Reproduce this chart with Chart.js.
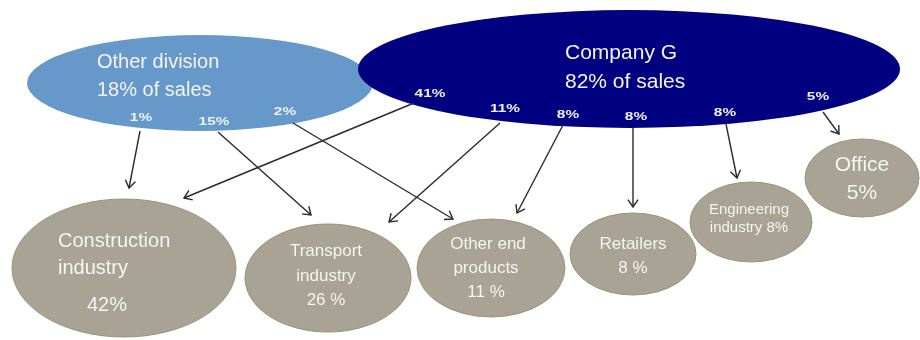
<!DOCTYPE html>
<html>
<head>
<meta charset="utf-8">
<script src="https://cdn.jsdelivr.net/npm/chart.js@4"></script>
<style>
  body { margin: 0; background: #fff; }
  #canvas-flow { display: block; }
</style>
</head>
<body>
<canvas id="canvas-flow" width="920" height="340"></canvas>
<script>
// sales split between the two producers
const sourceNames = ["Other division", "Company G"];
const sourceShares = [18, 82];

// end markets and their total share
const endUseLines = [["Construction", "industry"], ["Transport", "industry"], ["Other end", "products"], ["Retailers"], ["Engineering", "industry"], ["Office"]];
const endUseShares = [42, 26, 11, 8, 8, 5];

// flows: source index -> end use index, share of sales
const flowFrom = [0, 0, 0, 1, 1, 1, 1, 1, 1];
const flowTo = [0, 1, 2, 0, 1, 2, 3, 4, 5];
const flowShares = [1, 15, 2, 41, 11, 8, 8, 8, 5];

// diagram layout in axis units (x 0..920, y 0..340 downwards)
const sourceLayout = [
  {x: 200, y: 83, rx: 173, ry: 48, color: "#6699c9", font: 20, tx: 97, ty: [62, 90]},
  {x: 629, y: 69, rx: 271, ry: 59, color: "#000080", font: 21, tx: 565, ty: [53, 82]}
];
const endUseLayout = [
  {x: 124, y: 268, rx: 112, ry: 69, font: 20, align: "left", tx: [58, 58, 87], ty: [241, 268, 305], sep: ""},
  {x: 328, y: 278, rx: 83, ry: 54, font: 17, align: "center", tx: [326, 326, 326], ty: [251, 276, 300], sep: " "},
  {x: 491, y: 268, rx: 74, ry: 49, font: 17, align: "center", tx: [488, 486, 486], ty: [244, 268, 292], sep: " "},
  {x: 633, y: 254, rx: 63, ry: 41, font: 17, align: "center", tx: [633, 633], ty: [244, 268], sep: " "},
  {x: 751, y: 222, rx: 61, ry: 40, font: 15, align: "center", tx: [749, 749], ty: [210, 228], sep: "", inline: true},
  {x: 862, y: 178, rx: 57, ry: 39, font: 21, align: "center", tx: [862, 862], ty: [165, 193], sep: ""}
];
const flowPaths = [
  [[140, 131], [129, 188]],
  [[218, 132], [311, 215]],
  [[293, 123], [453, 219]],
  [[414, 103], [184, 198]],
  [[500, 123], [389, 222]],
  [[563, 125], [517, 213]],
  [[633, 128], [633, 207]],
  [[726, 124], [737, 178]],
  [[823, 112], [839, 134]]
];
const flowLabelPos = [[141, 118], [214, 122], [285, 112], [430, 94], [505, 109], [568, 115], [636, 117], [725, 113], [818, 97]];

const fontFamily = '"Liberation Sans", Arial, sans-serif';

function ellipse(ctx, chart, n, fill, stroke) {
  const xs = chart.scales.x, ys = chart.scales.y;
  const cx = xs.getPixelForValue(n.x), cy = ys.getPixelForValue(n.y);
  const rx = Math.abs(xs.getPixelForValue(n.x + n.rx) - cx);
  const ry = Math.abs(ys.getPixelForValue(n.y + n.ry) - cy);
  ctx.beginPath();
  ctx.ellipse(cx, cy, rx, ry, 0, 0, Math.PI * 2);
  ctx.fillStyle = fill;
  ctx.fill();
  if (stroke) {
    ctx.strokeStyle = stroke;
    ctx.lineWidth = 1;
    ctx.stroke();
  }
}

const nodePlugin = {
  id: "nodes",
  beforeDatasetsDraw(chart) {
    const ctx = chart.ctx, xs = chart.scales.x, ys = chart.scales.y;
    ctx.save();
    ctx.textBaseline = "middle";

    // end use ellipses
    endUseLayout.forEach((n, i) => {
      ellipse(ctx, chart, n, "#a8a394", "#9c9474");
      let lines = endUseLines[i].slice();
      const pct = endUseShares[i] + n.sep + "%";
      if (n.inline) lines[lines.length - 1] += " " + pct;
      else lines.push(pct);
      ctx.fillStyle = "#f4f4f0";
      ctx.font = n.font + "px " + fontFamily;
      ctx.textAlign = n.align;
      lines.forEach((t, k) => {
        ctx.fillText(t, xs.getPixelForValue(n.tx[k]), ys.getPixelForValue(n.ty[k]));
      });
    });

    // source ellipses, company G on top
    sourceLayout.forEach((n, i) => {
      ellipse(ctx, chart, n, n.color);
      ctx.fillStyle = "#f4f4f4";
      ctx.font = n.font + "px " + fontFamily;
      ctx.textAlign = "left";
      ctx.fillText(sourceNames[i], xs.getPixelForValue(n.tx), ys.getPixelForValue(n.ty[0]));
      ctx.fillText(sourceShares[i] + "% of sales", xs.getPixelForValue(n.tx), ys.getPixelForValue(n.ty[1]));
    });
    ctx.restore();
  },
  afterDatasetsDraw(chart) {
    const ctx = chart.ctx, xs = chart.scales.x, ys = chart.scales.y;
    ctx.save();
    chart.data.datasets.forEach((ds, i) => {
      const pts = chart.getDatasetMeta(i).data;
      const a = pts[0], b = pts[1];
      const ang = Math.atan2(b.y - a.y, b.x - a.x);
      const len = 9, spread = 0.6;
      ctx.beginPath();
      ctx.moveTo(b.x - len * Math.cos(ang - spread), b.y - len * Math.sin(ang - spread));
      ctx.lineTo(b.x, b.y);
      ctx.lineTo(b.x - len * Math.cos(ang + spread), b.y - len * Math.sin(ang + spread));
      ctx.strokeStyle = "#2a2a2a";
      ctx.lineWidth = 1.4;
      ctx.stroke();

      // share printed at the start of each flow, wide and small
      const p = flowLabelPos[i];
      ctx.save();
      ctx.translate(xs.getPixelForValue(p[0]), ys.getPixelForValue(p[1]));
      ctx.scale(1.4, 1);
      ctx.font = "bold 11px " + fontFamily;
      ctx.textAlign = "center";
      ctx.textBaseline = "middle";
      ctx.fillStyle = "#eef2f8";
      ctx.fillText(flowShares[i] + "%", 0, 0);
      ctx.restore();
    });
    ctx.restore();
  }
};

function start() {
  const ctx = document.getElementById("canvas-flow").getContext("2d");
  const datasets = flowShares.map((share, i) => ({
    label: sourceNames[flowFrom[i]] + " → " + endUseLines[flowTo[i]].join(" ") + ": " + share + "%",
    data: flowPaths[i].map(p => ({x: p[0], y: p[1]})),
    showLine: true,
    borderColor: "#2a2a2a",
    borderWidth: 1.4,
    pointRadius: 0
  }));
  new Chart(ctx, {
    type: "scatter",
    data: {datasets: datasets},
    options: {
      responsive: false,
      animation: false,
      layout: {padding: 0},
      scales: {
        x: {type: "linear", min: 0, max: 920, display: false},
        y: {type: "linear", min: 0, max: 340, reverse: true, display: false}
      },
      plugins: {
        legend: {display: false},
        tooltip: {enabled: false}
      }
    },
    plugins: [nodePlugin]
  });
}

window.addEventListener("load", start);
</script>
</body>
</html>
